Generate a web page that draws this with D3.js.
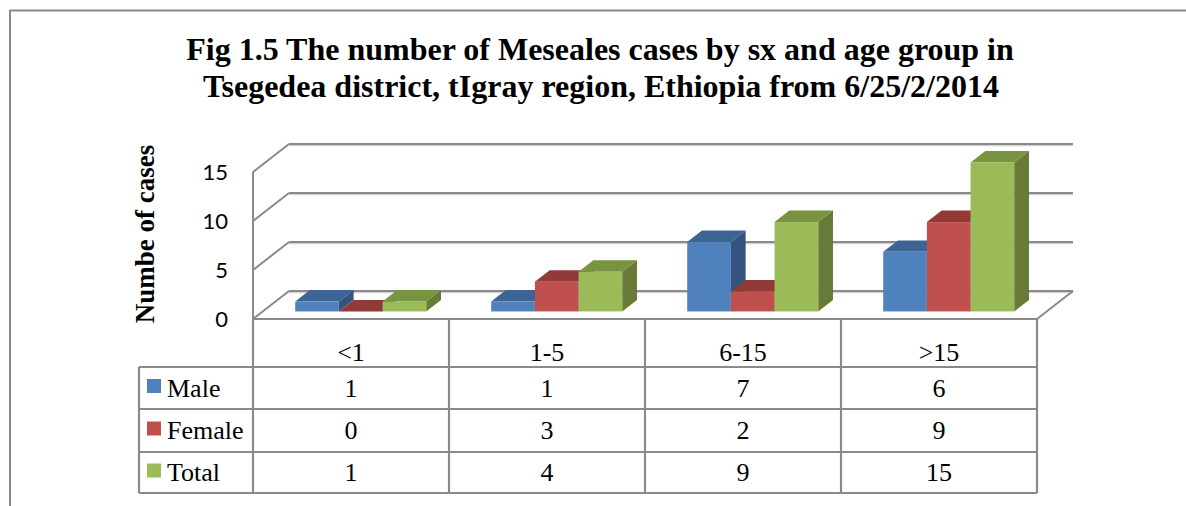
<!DOCTYPE html>
<html>
<head>
<meta charset="utf-8">
<script src="https://cdn.jsdelivr.net/npm/d3@7"></script>
<style>
  body { margin: 0; background: #fff; }
  svg { display: block; }
</style>
</head>
<body>
<svg id="chart" width="1186" height="506"></svg>
<script>
// data
const categories = ["<1", "1-5", "6-15", ">15"];
const seriesNames = ["Male", "Female", "Total"];
const male = [1, 1, 7, 6];
const female = [0, 3, 2, 9];
const total = [1, 4, 9, 15];
const yTicks = [0, 5, 10, 15];

const seriesValues = [male, female, total];
const colors = {
  Male:   { front: "#4f81bd", top: "#3c6494", side: "#32547e" },
  Female: { front: "#c0504d", top: "#923a38", side: "#7d302e" },
  Total:  { front: "#9bbb59", top: "#789440", side: "#677a37" }
};

const svg = d3.select("#chart");
const gridColor = "#8a8a8a";
const serif = "'Liberation Serif', 'Times New Roman', serif";

// chart frame (only top and left edges are visible)
svg.append("path")
  .attr("d", "M10,506 L10,10.5 L1186,10.5")
  .attr("fill", "none")
  .attr("stroke", gridColor)
  .attr("stroke-width", 2);

// title
const title = svg.append("text")
  .attr("text-anchor", "middle")
  .style("font-family", serif)
  .style("font-weight", "bold")
  .style("font-size", "32px")
  .attr("fill", "#000");
title.append("tspan").attr("x", 600).attr("y", 60)
  .text("Fig 1.5 The number of Meseales cases by sx and age group in");
title.append("tspan").attr("x", 601).attr("y", 97)
  .text("Tsegedea district, tIgray region, Ethiopia from 6/25/2/2014");

// plot geometry
const left = 253, right = 1037, floorY = 319;
const depthX = 36, depthY = -28;   // full depth of the floor / walls

const x = d3.scaleBand().domain(categories).range([left, right]);
const yFront = d3.scaleLinear().domain([0, 15]).range([floorY, 172]);
const yBack = d3.scaleLinear().domain([0, 15]).range([floorY + depthY, 172 + depthY]);
const xs = d3.scaleBand().domain(seriesNames).range([32.5, x.bandwidth() - 32.5]);

// walls / gridlines
const walls = svg.append("g");
yTicks.forEach(t => {
  // back wall line (with light shadow under it)
  walls.append("line")
    .attr("x1", left + depthX).attr("x2", right + depthX)
    .attr("y1", yBack(t) + 1.6).attr("y2", yBack(t) + 1.6)
    .attr("stroke", "#d2d2d2").attr("stroke-width", 1.2);
  walls.append("line")
    .attr("x1", left + depthX).attr("x2", right + depthX)
    .attr("y1", yBack(t)).attr("y2", yBack(t))
    .attr("stroke", gridColor).attr("stroke-width", 2);
  // left side wall diagonal
  walls.append("line")
    .attr("x1", left).attr("y1", yFront(t))
    .attr("x2", left + depthX).attr("y2", yBack(t))
    .attr("stroke", gridColor).attr("stroke-width", 2);
});
// left wall front edge
walls.append("line")
  .attr("x1", left).attr("x2", left)
  .attr("y1", yFront(15)).attr("y2", floorY)
  .attr("stroke", gridColor).attr("stroke-width", 2);
// floor right edge
walls.append("line")
  .attr("x1", right).attr("y1", floorY)
  .attr("x2", right + depthX).attr("y2", floorY + depthY)
  .attr("stroke", gridColor).attr("stroke-width", 2);

// y tick labels
svg.append("g").selectAll("text")
  .data(yTicks)
  .join("text")
  .attr("x", 228)
  .attr("y", d => yFront(d) + 8)
  .attr("text-anchor", "end")
  .style("font-family", "Lato, 'Liberation Sans', sans-serif")
  .style("font-size", "22px")
  .attr("fill", "#000")
  .text(d => d);

// y axis title
svg.append("text")
  .attr("transform", "translate(154,234) rotate(-90)")
  .attr("text-anchor", "middle")
  .style("font-family", serif)
  .style("font-weight", "bold")
  .style("font-size", "27px")
  .attr("fill", "#000")
  .text("Numbe of cases");

// 3D bars
const barT0 = 0.27, barT1 = 0.68;          // depth range of the bars
const bx0 = depthX * barT0, by0 = depthY * barT0;
const ddx = depthX * (barT1 - barT0), ddy = depthY * (barT1 - barT0);
const yBar = d3.scaleLinear().domain([0, 15]).range([floorY + by0, 162.5]);

const bars = svg.append("g");
categories.forEach((c, ci) => {
  seriesNames.forEach((s, si) => {
    const v = seriesValues[si][ci];
    const x0 = x(c) + xs(s) + bx0;
    const x1 = x0 + xs.bandwidth();
    const yT = yBar(v), yB = yBar(0);
    const g = bars.append("g");
    // side
    g.append("path")
      .attr("d", `M${x1},${yB} L${x1 + ddx},${yB + ddy} L${x1 + ddx},${yT + ddy} L${x1},${yT} Z`)
      .attr("fill", colors[s].side);
    // top
    g.append("path")
      .attr("d", `M${x0},${yT} L${x0 + ddx},${yT + ddy} L${x1 + ddx},${yT + ddy} L${x1},${yT} Z`)
      .attr("fill", colors[s].top);
    // front
    g.append("rect")
      .attr("x", x0).attr("y", yT)
      .attr("width", xs.bandwidth()).attr("height", yB - yT)
      .attr("fill", colors[s].front);
  });
});

// data table
const tableLeft = 139;
const rowEdges = [319, 367, 409, 452, 493];
const table = svg.append("g")
  .style("font-family", serif)
  .style("font-size", "26px")
  .attr("fill", "#000");

// header row: category names
table.selectAll("text.cat")
  .data(categories)
  .join("text")
  .attr("class", "cat")
  .attr("x", d => x(d) + x.bandwidth() / 2)
  .attr("y", 361)
  .attr("text-anchor", "middle")
  .text(d => d);

seriesNames.forEach((s, si) => {
  const yc = (rowEdges[si + 1] + rowEdges[si + 2]) / 2;
  table.append("rect")
    .attr("x", 147).attr("y", yc - 9)
    .attr("width", 14).attr("height", 14)
    .attr("fill", colors[s].front);
  table.append("text")
    .attr("x", 167).attr("y", yc + 8.5)
    .text(s);
  table.selectAll(null)
    .data(seriesValues[si])
    .join("text")
    .attr("x", (d, i) => x(categories[i]) + x.bandwidth() / 2)
    .attr("y", yc + 8.5)
    .attr("text-anchor", "middle")
    .text(d => d);
});

// table grid lines
const lines = svg.append("g").attr("stroke", gridColor).attr("stroke-width", 2.2);
lines.append("line").attr("x1", left).attr("x2", right).attr("y1", rowEdges[0]).attr("y2", rowEdges[0]);
rowEdges.slice(1).forEach(r => {
  lines.append("line").attr("x1", tableLeft).attr("x2", right).attr("y1", r).attr("y2", r);
});
lines.append("line").attr("x1", tableLeft).attr("x2", tableLeft).attr("y1", rowEdges[1]).attr("y2", rowEdges[4]);
categories.concat(["end"]).forEach((c, i) => {
  const xx = i < categories.length ? x(c) : right;
  lines.append("line").attr("x1", xx).attr("x2", xx).attr("y1", rowEdges[0]).attr("y2", rowEdges[4]);
});
</script>
</body>
</html>
